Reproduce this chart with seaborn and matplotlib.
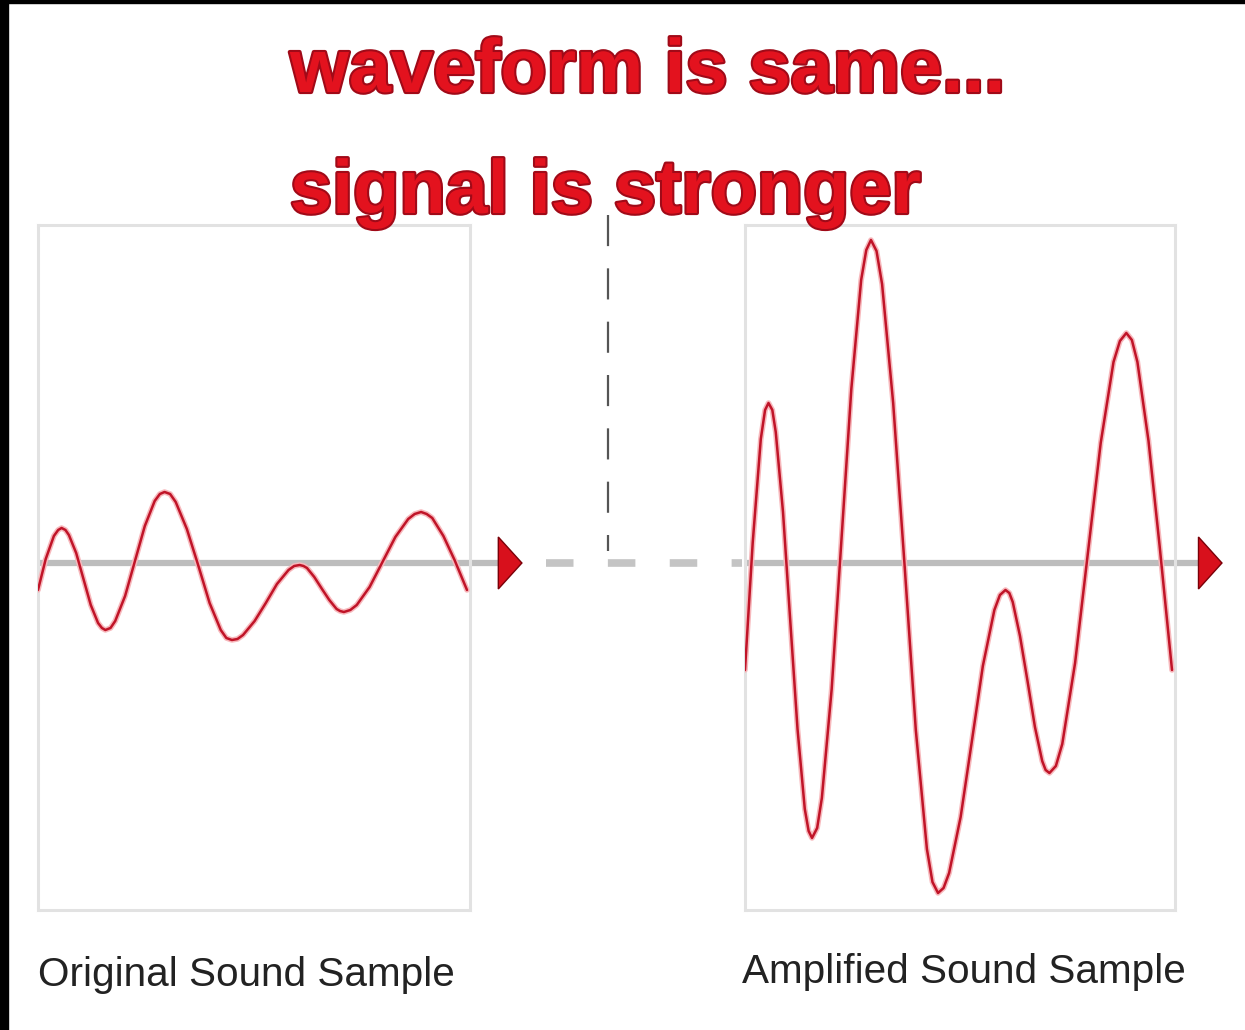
import numpy as np
import pandas as pd
import seaborn as sns
import matplotlib.pyplot as plt
import matplotlib.patheffects as pe
from matplotlib.patches import Rectangle

# Sample time (fraction of the window) shared by both panels
time = [0.000, 0.018, 0.037, 0.047,
        0.055, 0.064, 0.072, 0.089, 0.106, 0.123, 0.140, 0.149,
        0.157, 0.169, 0.180, 0.203, 0.226, 0.249, 0.272, 0.284,
        0.295, 0.308, 0.321, 0.347, 0.374, 0.400, 0.426, 0.439,
        0.452, 0.465, 0.478, 0.505, 0.531, 0.557, 0.584, 0.597,
        0.610, 0.619, 0.627, 0.644, 0.662, 0.679, 0.696, 0.704,
        0.713, 0.728, 0.743, 0.773, 0.803, 0.833, 0.863, 0.878,
        0.893, 0.906, 0.919, 0.945, 0.971, 1.000]

# Amplitude
original = [-27, 4, 27, 33,
            35, 33, 28, 10, -16, -42, -60, -65,
            -67, -65, -58, -33, 2, 37, 62, 69,
            71, 69, 61, 34, -3, -40, -67, -75,
            -77, -76, -72, -58, -40, -21, -7, -3,
            -2, -3, -5, -14, -26, -37, -46, -48,
            -49, -47, -42, -24, 1, 26, 44, 49,
            51, 49, 45, 27, 3, -27]

amplified = [-107, 20, 124, 153,
             160, 153, 131, 51, -58, -166, -246, -268,
             -275, -265, -235, -126, 24, 174, 283, 313,
             323, 312, 279, 160, -4, -167, -286, -319,
             -330, -325, -310, -254, -179, -103, -47, -32,
             -27, -30, -39, -73, -119, -164, -198, -207,
             -210, -203, -181, -100, 10, 120, 201, 222,
             230, 223, 201, 122, 17, -107]

title_lines = ["waveform is same...", "signal is stronger"]
panel_labels = ["Original Sound Sample", "Amplified Sound Sample"]

sns.set_style("white")
plt.rcParams['font.family'] = ['Liberation Sans', 'DejaVu Sans']

W, H = 1245, 1030
fig = plt.figure(figsize=(W / 100, H / 100), dpi=100)
fig.patch.set_facecolor('white')

WAVE = '#c01428'
GLOW = [pe.Stroke(linewidth=4.0, foreground='#f7b8bc'), pe.Normal()]

def make_panel(x0, x1, values, tail_end, tip):
    ax = fig.add_axes([x0 / W, 1 - 910 / H, (x1 - x0) / W, 685 / H])
    df = pd.DataFrame({'time': time, 'amp': values})
    sns.lineplot(data=df, x='time', y='amp', ax=ax, color=WAVE, lw=1.8,
                 path_effects=GLOW, zorder=3)
    ax.set_xlim(0, 1.007)
    ax.set_ylim(-347, 338)
    ax.set_xticks([])
    ax.set_yticks([])
    ax.set_xlabel('')
    ax.set_ylabel('')
    for s in ax.spines.values():
        s.set_color('#e2e2e2')
        s.set_linewidth(2.2)
    # zero line with arrow head
    ax.plot([0, tail_end], [0, 0], color='#bdbdbd', lw=4.5, zorder=2,
            clip_on=False, solid_capstyle='butt')
    ax.fill([tip - 0.055, tip, tip - 0.055], [26, 0, -26], color='#d8101c',
            ec='#7a0008', lw=1, zorder=4, clip_on=False)
    return ax

ax1 = make_panel(38, 470, original, 1.08, 1.128)
ax2 = make_panel(745, 1175, amplified, 1.065, 1.117)

# dashed connector between the panels and the dashed divider
ax1.plot([1.185, 1.64], [0, 0], color='#c4c4c4', lw=5.5, clip_on=False,
         linestyle=(0, (3.6, 4.5)), dash_capstyle='butt', zorder=1)
ax1.plot([1.329, 1.329], [348, 12], color='#555555', lw=1.6, clip_on=False,
         linestyle=(0, (14, 10)), zorder=1)

# title
for txt, base in zip(title_lines, [92, 213]):
    fig.text(290 / W, 1 - base / H, txt, ha='left', va='baseline',
             fontsize=54.5, fontweight='bold', color='#e3121e',
             path_effects=[pe.withStroke(linewidth=3, foreground='#a00a18')])

# panel captions
fig.text(38 / W, 1 - 986 / H, panel_labels[0], ha='left', va='baseline',
         fontsize=29.2, color='#222222')
fig.text(742 / W, 1 - 983 / H, panel_labels[1], ha='left', va='baseline',
         fontsize=29.2, color='#222222')

# black frame edges from the source image
fig.add_artist(Rectangle((0, 1 - 3 / H), 1, 3 / H, transform=fig.transFigure,
                         color='black', zorder=10))
fig.add_artist(Rectangle((0, 0), 8 / W, 1, transform=fig.transFigure,
                         color='black', zorder=10))

fig.savefig('out.png', dpi=100)
